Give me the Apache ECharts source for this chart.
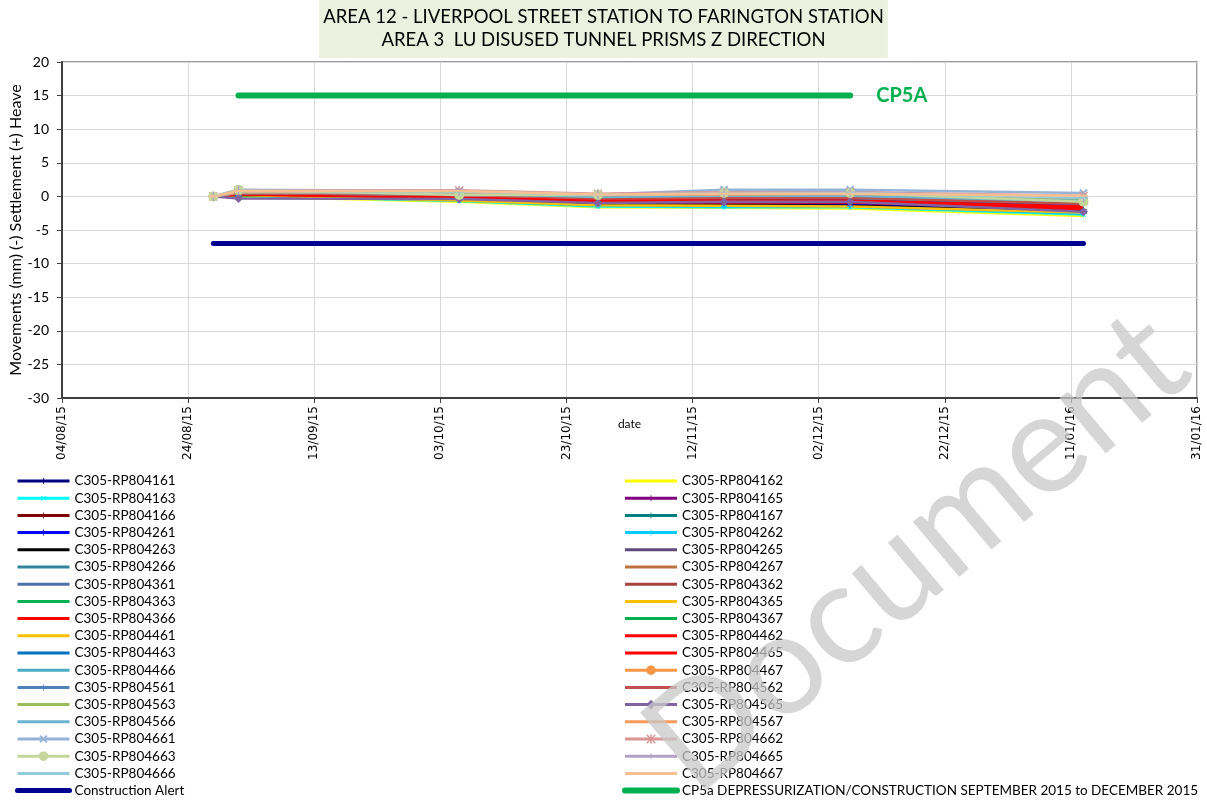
<!DOCTYPE html>
<html>
<head>
<meta charset="utf-8">
<script src="https://cdn.jsdelivr.net/npm/echarts@6/dist/echarts.min.js"></script>
<style>
  html, body { margin: 0; padding: 0; background: #fff; }
  #chart { width: 1207px; height: 805px; }
</style>
</head>
<body>
<div id="chart"></div>
<script>
// survey dates (dd/mm/yy)
const dates = ['28/08/15', '01/09/15', '06/10/15', '28/10/15', '17/11/15', '07/12/15', '13/01/16'];
const axisStart = '04/08/15';
const axisEnd = '31/01/16';
const dayStep = 20;
const yMin = -30, yMax = 20, yStep = 5;

// reference lines
const alertDates = ['28/08/15', '13/01/16'];
const alertValues = [-7, -7];
const cp5aDates = ['01/09/15', '07/12/15'];
const cp5aValues = [15, 15];

// prism movements (mm)
const rp804161 = [0, 0.1, -0.3, -1.0, -1.1, -1.2, -2.2];
const rp804162 = [0, 0.0, -0.8, -1.6, -1.7, -1.8, -2.9];
const rp804163 = [0, 0.1, -0.7, -1.5, -1.6, -1.6, -2.7];
const rp804165 = [0, 0.2, -0.4, -1.1, -1.2, -1.3, -2.5];
const rp804166 = [0, 0.2, -0.3, -0.9, -1.0, -1.0, -2.0];
const rp804167 = [0, 0.3, -0.2, -0.8, -0.8, -0.9, -1.9];
const rp804261 = [0, 0.2, -0.4, -1.0, -1.1, -1.1, -2.1];
const rp804262 = [0, 0.1, -0.6, -1.4, -1.5, -1.5, -2.6];
const rp804263 = [0, 0.2, -0.5, -1.2, -1.3, -1.4, -2.3];
const rp804265 = [0, 0.4, -0.1, -0.7, -0.6, -0.6, -1.6];
const rp804266 = [0, 0.5, 0.0, -0.5, -0.5, -0.5, -1.5];
const rp804267 = [0, 0.6, 0.3, -0.2, -0.1, -0.1, -1.0];
const rp804361 = [0, 0.6, 0.3, -0.1, 0.0, 0.0, -0.9];
const rp804362 = [0, 0.4, 0.1, -0.5, -0.4, -0.4, -1.4];
const rp804363 = [0, 0.3, -0.1, -0.6, -0.6, -0.7, -1.7];
const rp804365 = [0, 0.3, -0.2, -0.7, -0.7, -0.8, -1.8];
const rp804366 = [0, 0.3, -0.3, -0.8, -0.9, -0.9, -1.9];
const rp804367 = [0, 0.4, 0.0, -0.5, -0.5, -0.6, -1.5];
const rp804461 = [0, 0.2, -0.6, -1.3, -1.4, -1.5, -2.4];
const rp804462 = [0, 0.3, -0.2, -0.6, -0.7, -0.7, -1.6];
const rp804463 = [0, 0.4, 0.0, -0.4, -0.4, -0.4, -1.2];
const rp804465 = [0, 0.3, -0.1, -0.5, -0.6, -0.6, -1.5];
const rp804466 = [0, 0.5, 0.2, -0.2, -0.2, -0.2, -1.0];
const rp804467 = [0, 0.7, 0.5, 0.0, 0.2, 0.3, -0.5];
const rp804561 = [0, 0.8, 0.6, 0.2, 0.5, 0.6, -0.3];
const rp804562 = [0, 0.5, 0.2, -0.3, -0.2, -0.2, -1.1];
const rp804563 = [0, 0.7, 0.5, 0.1, 0.3, 0.3, -0.4];
const rp804565 = [0, -0.3, -0.4, -1.0, -0.8, -0.8, -2.3];
const rp804566 = [0, 0.6, 0.4, -0.1, 0.1, 0.1, -0.7];
const rp804567 = [0, 0.6, 0.6, 0.2, 0.3, 0.4, 0.0];
const rp804661 = [0, 1.0, 0.8, 0.3, 1.0, 1.0, 0.5];
const rp804662 = [0, 0.9, 0.9, 0.4, 0.6, 0.6, 0.1];
const rp804663 = [0, 1.0, 0.2, 0.2, 0.5, 0.5, -0.8];
const rp804665 = [0, 0.9, 0.8, 0.3, 0.5, 0.6, -0.2];
const rp804666 = [0, 0.8, 0.7, 0.3, 0.4, 0.5, -0.2];
const rp804667 = [0, 0.8, 0.8, 0.3, 0.4, 0.4, 0.1];

const leftNames = ['C305-RP804161', 'C305-RP804163', 'C305-RP804166', 'C305-RP804261', 'C305-RP804263',
  'C305-RP804266', 'C305-RP804361', 'C305-RP804363', 'C305-RP804366', 'C305-RP804461', 'C305-RP804463',
  'C305-RP804466', 'C305-RP804561', 'C305-RP804563', 'C305-RP804566', 'C305-RP804661', 'C305-RP804663',
  'C305-RP804666', 'Construction Alert'];
const rightNames = ['C305-RP804162', 'C305-RP804165', 'C305-RP804167', 'C305-RP804262', 'C305-RP804265',
  'C305-RP804267', 'C305-RP804362', 'C305-RP804365', 'C305-RP804367', 'C305-RP804462', 'C305-RP804465',
  'C305-RP804467', 'C305-RP804562', 'C305-RP804565', 'C305-RP804567', 'C305-RP804662', 'C305-RP804665',
  'C305-RP804667', 'CP5a DEPRESSURIZATION/CONSTRUCTION SEPTEMBER 2015 to DECEMBER 2015'];
const alertName = 'Construction Alert';
const cp5aName = rightNames[rightNames.length - 1];

// marker shapes (tiny corner specks pad the box so the legend keeps them small)
const PAD16 = 'M0,0 L0.01,0 L0,0.01 Z M16,16 L15.99,16 L16,15.99 Z ';
const PLUS = 'path://M4,0 H6 V4 H10 V6 H6 V10 H4 V6 H0 V4 H4 Z';
const PLUS_S = 'path://' + PAD16 + 'M7.3,3 H8.7 V7.3 H13 V8.7 H8.7 V13 H7.3 V8.7 H3 V7.3 H7.3 Z';
const DASH = 'path://' + PAD16 + 'M2,6.6 H14 V9.4 H2 Z';
const STAR = 'path://M4.3,0 H5.7 V10 H4.3 Z M0,1 L1,0 L10,9 L9,10 Z M9,0 L10,1 L1,10 L0,9 Z';

// series in drawing order, with styling
const prisms = [
  ['C305-RP804161', rp804161, '#000080', PLUS_S, 10],
  ['C305-RP804162', rp804162, '#FFFF00'],
  ['C305-RP804163', rp804163, '#00FFFF', PLUS_S, 10, 45],
  ['C305-RP804165', rp804165, '#800080', PLUS_S, 10],
  ['C305-RP804166', rp804166, '#800000', PLUS_S, 10],
  ['C305-RP804167', rp804167, '#008080', PLUS_S, 10],
  ['C305-RP804261', rp804261, '#0000FF', PLUS_S, 9],
  ['C305-RP804262', rp804262, '#00CCFF', PLUS_S, 10],
  ['C305-RP804263', rp804263, '#000000'],
  ['C305-RP804265', rp804265, '#604A7B'],
  ['C305-RP804266', rp804266, '#31859C'],
  ['C305-RP804267', rp804267, '#C0703C'],
  ['C305-RP804361', rp804361, '#4F6FA8'],
  ['C305-RP804362', rp804362, '#A5423F'],
  ['C305-RP804363', rp804363, '#00B050'],
  ['C305-RP804365', rp804365, '#FFC000'],
  ['C305-RP804366', rp804366, '#FF0000'],
  ['C305-RP804367', rp804367, '#00B050'],
  ['C305-RP804461', rp804461, '#FFC000'],
  ['C305-RP804462', rp804462, '#FF0000'],
  ['C305-RP804463', rp804463, '#0070C0'],
  ['C305-RP804465', rp804465, '#FF0000'],
  ['C305-RP804466', rp804466, '#4BACC6'],
  ['C305-RP804467', rp804467, '#F79646', 'circle', 8],
  ['C305-RP804561', rp804561, '#4F81BD', PLUS_S, 14],
  ['C305-RP804562', rp804562, '#C0504D', DASH, 11],
  ['C305-RP804563', rp804563, '#9BBB59', DASH, 12],
  ['C305-RP804565', rp804565, '#8064A2', 'diamond', 9],
  ['C305-RP804566', rp804566, '#6BB3CE'],
  ['C305-RP804567', rp804567, '#F79B5C'],
  ['C305-RP804661', rp804661, '#95B3D7', PLUS, 10, 45],
  ['C305-RP804662', rp804662, '#D99694', STAR, 9],
  ['C305-RP804663', rp804663, '#C3D69B', 'circle', 10],
  ['C305-RP804665', rp804665, '#B3A2C7', PLUS_S, 15],
  ['C305-RP804666', rp804666, '#93CDDD', DASH, 11],
  ['C305-RP804667', rp804667, '#FABF8F', DASH, 12]
];

const DAY = 86400000;
function toDate(s) {
  const p = s.split('/').map(Number);
  return Date.UTC(2000 + p[2], p[1] - 1, p[0]);
}
const origin = toDate(axisStart);
function toDay(s) { return Math.round((toDate(s) - origin) / DAY); }
function fmtDay(v) {
  const d = new Date(origin + v * DAY);
  const dd = String(d.getUTCDate()).padStart(2, '0');
  const mm = String(d.getUTCMonth() + 1).padStart(2, '0');
  const yy = String(d.getUTCFullYear() % 100).padStart(2, '0');
  return dd + '/' + mm + '/' + yy;
}

const FONT = 'Lato, "Open Sans", sans-serif';
const series = prisms.map(([name, vals, color, symbol, size, rot]) => ({
  name: name,
  type: 'line',
  data: vals.map((v, i) => [toDay(dates[i]), v]),
  symbol: symbol || 'none',
  symbolSize: size || 0,
  symbolRotate: rot || 0,
  showAllSymbol: true,
  lineStyle: { color: color, width: 2.5 },
  itemStyle: { color: color },
  emphasis: { disabled: true }
}));
series.push({
  name: alertName,
  type: 'line',
  data: alertValues.map((v, i) => [toDay(alertDates[i]), v]),
  symbol: 'none',
  lineStyle: { color: '#000090', width: 5, cap: 'round' },
  itemStyle: { color: '#000090' },
  emphasis: { disabled: true }
});
series.push({
  name: cp5aName,
  type: 'line',
  data: cp5aValues.map((v, i) => [toDay(cp5aDates[i]), v]),
  symbol: 'none',
  lineStyle: { color: '#00B050', width: 6, cap: 'round' },
  itemStyle: { color: '#00B050' },
  endLabel: {
    show: true, formatter: 'CP5A', color: '#00B050', fontWeight: 'bold',
    fontSize: 20, fontFamily: FONT, distance: 26
  },
  emphasis: { disabled: true }
});

const markerless = new Set(prisms.filter(p => !p[3]).map(p => p[0]));
function legendData(names) {
  return names.map(n => {
    if (n === alertName || n === cp5aName) {
      return { name: n, itemStyle: { color: 'rgba(0,0,0,0)', borderWidth: 0 },
        lineStyle: { width: n === alertName ? 5 : 6, cap: 'round' } };
    }
    if (markerless.has(n)) {
      return { name: n, itemStyle: { color: 'rgba(0,0,0,0)', borderWidth: 0 }, lineStyle: { width: 3 } };
    }
    return { name: n, lineStyle: { width: 3 } };
  });
}
function makeLegend(left, names) {
  return {
    orient: 'vertical', left: left, top: 474, padding: 0,
    itemWidth: 52, itemHeight: 12, itemGap: 3.2,
    selectedMode: false,
    data: legendData(names),
    textStyle: { fontFamily: FONT, fontSize: 13.5, color: '#000', lineHeight: 12 }
  };
}

const chart = echarts.init(document.getElementById('chart'));
chart.setOption({
  animation: false,
  backgroundColor: '#fff',
  title: {
    text: 'AREA 12 - LIVERPOOL STREET STATION TO FARINGTON STATION\nAREA 3  LU DISUSED TUNNEL PRISMS Z DIRECTION',
    left: 'center', top: 0,
    backgroundColor: '#EBF1DE',
    padding: [6, 4, 6, 4],
    textStyle: { fontFamily: FONT, fontSize: 18.5, fontWeight: 'normal', color: '#000', lineHeight: 23, align: 'center' }
  },
  legend: [makeLegend(15, leftNames), makeLegend(622, rightNames)],
  grid: {
    left: 59, right: 10, top: 62, bottom: 407,
    show: true, borderColor: '#7F7F7F', borderWidth: 1.5
  },
  xAxis: {
    type: 'value',
    min: 0, max: toDay(axisEnd), interval: dayStep,
    name: 'date', nameLocation: 'middle', nameGap: 20, nameMoveOverlap: false,
    nameTextStyle: { fontFamily: FONT, fontSize: 12, color: '#000' },
    axisLine: { show: true, onZero: false, lineStyle: { color: '#404040', width: 2 } },
    axisTick: { show: true, length: 5, lineStyle: { color: '#404040' } },
    axisLabel: {
      rotate: 90, fontFamily: '"DejaVu Sans", sans-serif', fontSize: 12, color: '#000', margin: 8,
      formatter: fmtDay
    },
    splitLine: { show: true, lineStyle: { color: '#D9D9D9', width: 1 } }
  },
  yAxis: {
    type: 'value',
    min: yMin, max: yMax, interval: yStep,
    name: 'Movements (mm) (-) Settlement (+) Heave', nameLocation: 'middle', nameGap: 38, nameMoveOverlap: false,
    nameTextStyle: { fontFamily: FONT, fontSize: 16, color: '#000' },
    axisLine: { show: true, lineStyle: { color: '#404040', width: 2 } },
    axisTick: { show: true, length: 5, lineStyle: { color: '#404040' } },
    axisLabel: { fontFamily: FONT, fontSize: 14, color: '#000', margin: 13 },
    splitLine: { show: true, lineStyle: { color: '#D9D9D9', width: 1 } }
  },
  graphic: [{
    type: 'text', x: 712, y: 818, rotation: 0.70, z: 100, silent: true,
    style: {
      text: 'Document', fontSize: 142, fontFamily: FONT,
      fill: 'rgba(200,200,200,0.75)', verticalAlign: 'bottom', align: 'left'
    }
  }],
  series: series
});
</script>
</body>
</html>
